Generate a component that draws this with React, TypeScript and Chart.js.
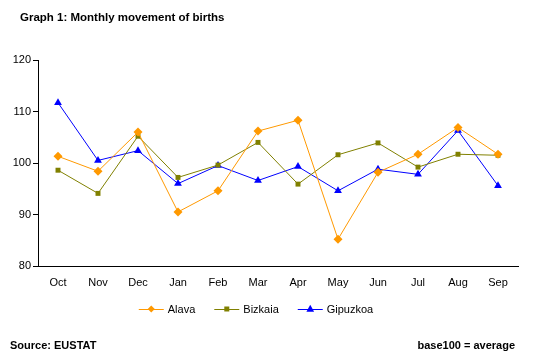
import React, { useEffect, useRef } from "react";
import { Chart, registerables } from "chart.js";

Chart.register(...registerables);

const categories = ["Oct", "Nov", "Dec", "Jan", "Feb", "Mar", "Apr", "May", "Jun", "Jul", "Aug", "Sep"];
const alava = [101.3, 98.4, 106.0, 90.5, 94.6, 106.2, 108.3, 85.2, 98.2, 101.7, 106.9, 101.7];
const bizkaia = [98.6, 94.1, 105.2, 97.2, 99.6, 104.0, 95.9, 101.6, 103.9, 99.2, 101.7, 101.5];
const gipuzkoa = [111.7, 100.5, 102.4, 96.0, 99.5, 96.6, 99.3, 94.6, 98.8, 97.8, 106.3, 95.6];
const titleText = "Graph 1: Monthly movement of births";
const sourceText = "Source: EUSTAT";
const noteText = "base100 = average";

const FONT = "'Liberation Sans', Arial, sans-serif";

function drawPoint(ctx: CanvasRenderingContext2D, style: string, x: number, y: number, r: number, color: string) {
  ctx.save();
  ctx.fillStyle = color;
  ctx.beginPath();
  if (style === "rectRot") {
    ctx.moveTo(x, y - r);
    ctx.lineTo(x + r, y);
    ctx.lineTo(x, y + r);
    ctx.lineTo(x - r, y);
  } else if (style === "rect") {
    ctx.rect(x - r, y - r, 2 * r, 2 * r);
  } else {
    ctx.moveTo(x, y - r * 1.2);
    ctx.lineTo(x + r * 1.1, y + r * 0.8);
    ctx.lineTo(x - r * 1.1, y + r * 0.8);
  }
  ctx.closePath();
  ctx.fill();
  ctx.restore();
}

const textPlugin = {
  id: "texts",
  afterDraw(chart: any) {
    const ctx = chart.ctx;
    ctx.save();
    ctx.fillStyle = "#000";
    ctx.textBaseline = "alphabetic";
    ctx.font = `bold 11.5px ${FONT}`;
    ctx.textAlign = "left";
    ctx.fillText(titleText, 20, 21);
    ctx.font = `bold 11px ${FONT}`;
    ctx.fillText(sourceText, 10, 349);
    ctx.textAlign = "right";
    ctx.fillText(noteText, 515, 349);

    // legend
    ctx.font = `11px ${FONT}`;
    ctx.textAlign = "left";
    ctx.textBaseline = "middle";
    const items = chart.data.datasets.map((d: any) => ({
      label: d.label,
      color: d.borderColor,
      style: d.pointStyle,
      r: d.pointRadius,
    }));
    const lineW = 25;
    const gap = 4;
    const spacing = 19;
    const widths = items.map((it: any) => lineW + gap + ctx.measureText(it.label).width);
    const total = widths.reduce((a: number, b: number) => a + b, 0) + spacing * (items.length - 1);
    let x = 256 - total / 2;
    const y = 309;
    items.forEach((it: any, i: number) => {
      ctx.strokeStyle = it.color;
      ctx.lineWidth = 1;
      ctx.beginPath();
      ctx.moveTo(x, y + 0.5);
      ctx.lineTo(x + lineW, y + 0.5);
      ctx.stroke();
      drawPoint(ctx, it.style, x + lineW / 2, y, it.r - 1, it.color);
      ctx.fillStyle = "#000";
      ctx.fillText(it.label, x + lineW + gap, y + 1);
      x += widths[i] + spacing;
    });
    ctx.restore();
  },
};

export default function App() {
  const ref = useRef<HTMLCanvasElement>(null);
  useEffect(() => {
    const mk = (label: string, data: number[], color: string, style: string, r: number) => ({
      label,
      data,
      borderColor: color,
      backgroundColor: color,
      borderWidth: 1,
      pointStyle: style,
      pointRadius: r,
      pointBorderWidth: 0,
      pointBackgroundColor: color,
      tension: 0,
    });
    const chart = new Chart(ref.current!, {
      type: "line",
      data: {
        labels: categories,
        datasets: [
          mk("Alava", alava, "#FF9900", "rectRot", 4.5),
          mk("Bizkaia", bizkaia, "#808000", "rect", 3.5),
          mk("Gipuzkoa", gipuzkoa, "#0000FF", "triangle", 4.5),
        ],
      },
      options: {
        animation: false,
        responsive: false,
        layout: { padding: { left: 0, right: 21, top: 60, bottom: 66 } },
        plugins: {
          legend: { display: false },
          title: { display: false },
          tooltip: { enabled: false },
        },
        scales: {
          x: {
            offset: true,
            grid: { display: false, drawTicks: false },
            border: { display: true, color: "#000", width: 1 },
            ticks: { color: "#000", font: { family: FONT, size: 11 }, padding: 10, maxRotation: 0 },
            afterFit: (s: any) => {
              s.height = 30;
            },
          },
          y: {
            min: 80,
            max: 120,
            grid: { display: true, drawOnChartArea: false, color: "#000", tickLength: 5 },
            border: { display: true, color: "#000", width: 1 },
            ticks: { stepSize: 10, color: "#000", font: { family: FONT, size: 11 }, padding: 2 },
            afterFit: (s: any) => {
              s.width = 38;
            },
          },
        },
      },
      plugins: [textPlugin],
    } as any);
    return () => chart.destroy();
  }, []);
  return (
    <div style={{ position: "fixed", left: 0, top: 0, width: 539, height: 362, background: "#fff" }}>
      <canvas ref={ref} width={539} height={362} style={{ display: "block" }} />
    </div>
  );
}
